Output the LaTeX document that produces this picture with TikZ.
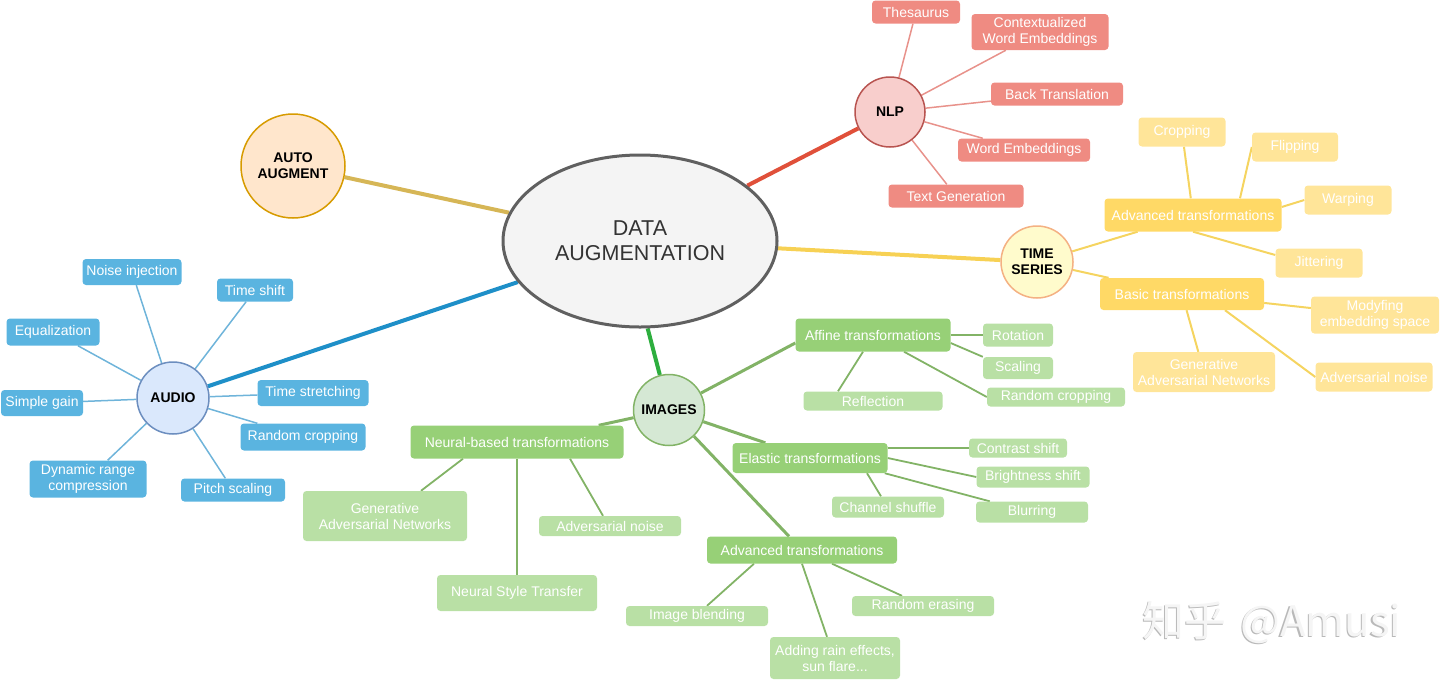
\documentclass[tikz,border=0pt]{standalone}
\usepackage{fontspec}
\setmainfont{Liberation Sans}
\newfontfamily\cjkfont{Noto Sans CJK SC}
\usetikzlibrary{shapes.geometric,backgrounds}
\definecolor{dafill}{HTML}{F4F4F4}
\definecolor{dadraw}{HTML}{606060}
\definecolor{datext}{HTML}{333333}
\definecolor{autofill}{HTML}{FFE6CC}
\definecolor{autodraw}{HTML}{D79B00}
\definecolor{autoc}{HTML}{D6B656}
\definecolor{nlpfill}{HTML}{F8CECC}
\definecolor{nlpdraw}{HTML}{B85450}
\definecolor{nlpc}{HTML}{E0503A}
\definecolor{nlpbox}{HTML}{EF8B82}
\definecolor{nlpthin}{HTML}{E8928B}
\definecolor{tsfill}{HTML}{FFFBCC}
\definecolor{tsdraw}{HTML}{F4B183}
\definecolor{tsc}{HTML}{F7D154}
\definecolor{tsone}{HTML}{FFD966}
\definecolor{tstwo}{HTML}{FFE599}
\definecolor{tsthin}{HTML}{F5D460}
\definecolor{aufill}{HTML}{DAE8FC}
\definecolor{audraw}{HTML}{6C8EBF}
\definecolor{auc}{HTML}{1E8FC8}
\definecolor{aubox}{HTML}{5AB4E0}
\definecolor{authin}{HTML}{6FB4DA}
\definecolor{imfill}{HTML}{D5E8D4}
\definecolor{imdraw}{HTML}{82B366}
\definecolor{imc}{HTML}{2DAE3E}
\definecolor{imone}{HTML}{97D077}
\definecolor{imtwo}{HTML}{B9E0A5}
\definecolor{imline}{HTML}{82B366}
\newcommand\lblfont{\fontsize{14}{16}\selectfont}
\begin{document}
\begin{tikzpicture}[x=1pt,y=-1pt,
  sz/.style 2 args={minimum width=#1pt, minimum height=#2pt},
  box/.style={rectangle, rounded corners=3.5pt, inner sep=0pt, align=center, text=white, font=\lblfont},
  nlpb/.style={box, fill=nlpbox},
  tsa/.style={box, fill=tsone},
  tsb/.style={box, fill=tstwo},
  aub/.style={box, fill=aubox},
  ima/.style={box, fill=imone},
  imb/.style={box, fill=imtwo},
  circ/.style={circle, inner sep=0pt, align=center, line width=1.5pt, font=\bfseries\lblfont, text=black},
  mainc/.style={line width=4pt},
  nlpl/.style={draw=nlpthin, line width=1.5pt},
  aul/.style={draw=authin, line width=1.5pt},
  tsl/.style={draw=tsthin, line width=2pt},
  iml/.style={draw=imline, line width=3pt},
  imll/.style={draw=imline, line width=1.8pt},
]
\useasboundingbox (0,0) rectangle (1440,681);

% central
\node[ellipse, draw=dadraw, fill=dafill, line width=3pt, minimum width=274pt, minimum height=172pt, inner sep=0pt, align=center, text=datext, font=\fontsize{21.5}{25}\selectfont] (da) at (640,241) {DATA\\AUGMENTATION};

% categories
\node[circ, fill=autofill, draw=autodraw, minimum size=104pt] (auto) at (293,166) {AUTO\\AUGMENT};
\node[circ, fill=nlpfill, draw=nlpdraw, minimum size=70pt] (nlp) at (890,112) {NLP};
\node[circ, fill=tsfill, draw=tsdraw, minimum size=72pt] (ts) at (1037,262) {TIME\\SERIES};
\node[circ, fill=aufill, draw=audraw, minimum size=72pt] (audio) at (173,398) {AUDIO};
\node[circ, fill=imfill, draw=imdraw, minimum size=71pt] (images) at (669,410) {IMAGES};

% NLP
\node[nlpb, sz={88}{23}] (thes) at (916,12) {Thesaurus};
\node[nlpb, sz={137}{36}] (ctx) at (1040,32) {Contextualized\\Word Embeddings};
\node[nlpb, sz={132}{23}] (bt) at (1057,94) {Back Translation};
\node[nlpb, sz={132}{23}] (we) at (1024,150) {Word Embeddings};
\node[nlpb, sz={135}{23}] (tg) at (956,196) {Text Generation};

% TIME SERIES
\node[tsa, sz={177}{33}] (tsadv) at (1193,215) {Advanced transformations};
\node[tsa, sz={164}{32}] (tsbasic) at (1182,294) {Basic transformations};
\node[tsb, sz={87}{29}] (crop) at (1182,132) {Cropping};
\node[tsb, sz={86}{29}] (flip) at (1295,147) {Flipping};
\node[tsb, sz={87}{29}] (warp) at (1348,200) {Warping};
\node[tsb, sz={87}{29}] (jit) at (1319,263) {Jittering};
\node[tsb, sz={128}{37}] (mod) at (1375,315) {Modyfing\\embedding space};
\node[tsb, sz={142}{40}] (tsgan) at (1204,372) {Generative\\Adversarial Networks};
\node[tsb, sz={117}{29}] (tsnoise) at (1374,377) {Adversarial noise};

% AUDIO
\node[aub, sz={99}{26}] (noise) at (132,272) {Noise injection};
\node[aub, sz={76}{23}] (tshift) at (255,290) {Time shift};
\node[aub, sz={93}{27}] (eq) at (53,332) {Equalization};
\node[aub, sz={82}{26}] (gain) at (42,403) {Simple gain};
\node[aub, sz={117}{37}] (drc) at (88,479) {Dynamic range\\compression};
\node[aub, sz={104}{23}] (pitch) at (233,490) {Pitch scaling};
\node[aub, sz={111}{26}] (tstretch) at (313,393) {Time stretching};
\node[aub, sz={125}{27}] (aucrop) at (303,437) {Random cropping};

% IMAGES
\node[ima, sz={155}{33}] (affine) at (873,335) {Affine transformations};
\node[imb, sz={70}{23}] (rot) at (1018,335) {Rotation};
\node[imb, sz={70}{22}] (scal) at (1018,368) {Scaling};
\node[imb, sz={138}{19}] (imcrop) at (1056,397) {Random cropping};
\node[imb, sz={139}{19}] (refl) at (873,401) {Reflection};
\node[ima, sz={155}{30}] (elastic) at (810,458) {Elastic transformations};
\node[imb, sz={98}{19}] (contrast) at (1018,448) {Contrast shift};
\node[imb, sz={113}{21}] (bright) at (1033,477) {Brightness shift};
\node[imb, sz={112}{21}] (chan) at (888,507) {Channel shuffle};
\node[imb, sz={112}{21}] (blur) at (1032,512) {Blurring};
\node[ima, sz={213}{33}] (neural) at (517,442) {Neural-based transformations};
\node[imb, sz={164}{50}] (imgan) at (385,516) {Generative\\Adversarial Networks};
\node[imb, sz={142}{20}] (imnoise) at (610,526) {Adversarial noise};
\node[imb, sz={160}{36}] (nst) at (517,593) {Neural Style Transfer};
\node[ima, sz={190}{27}] (imadv) at (802,550) {Advanced transformations};
\node[imb, sz={142}{20}] (blend) at (697,616) {Image blending};
\node[imb, sz={142}{20}] (erase) at (923,606) {Random erasing};
\node[imb, sz={130}{42}] (rain) at (835,658) {Adding rain effects,\\sun flare...};

% watermark
\node[text=gray!55, font=\cjkfont\fontsize{42}{44}\selectfont, inner sep=0pt] (wmshadow) at (1270.5,623.5) {知乎\hspace{14pt}@Amusi};
\node[text=gray!8, font=\cjkfont\fontsize{42}{44}\selectfont, inner sep=0pt] (wm) at (1272,622) {知乎\hspace{14pt}@Amusi};

\begin{pgfonlayer}{background}
\draw[mainc, draw=autoc] (auto) -- (da);
\draw[mainc, draw=nlpc] (da) -- (nlp);
\draw[mainc, draw=tsc] (da) -- (ts);
\draw[mainc, draw=auc] (da) -- (audio);
\draw[mainc, draw=imc] (images) -- (da.275);

\foreach \t in {thes,ctx,bt,we,tg} \draw[nlpl] (nlp) -- (\t);
\foreach \t in {noise,tshift,eq,gain,drc,pitch,tstretch,aucrop} \draw[aul] (audio) -- (\t);

\draw[tsl] (ts) -- (tsadv);
\draw[tsl] (ts) -- (tsbasic);
\draw[tsl] (crop) -- (tsadv);
\draw[tsl] ([xshift=47pt]tsadv.north) -- (flip.west);
\draw[tsl] ([yshift=8pt]tsadv.east) -- (warp.west);
\draw[tsl] (tsadv.south) -- ([yshift=8pt]jit.west);
\draw[tsl] (tsbasic) -- (mod);
\draw[tsl] (tsbasic) -- (tsgan);
\draw[tsl] ([xshift=43pt]tsbasic.south) -- (tsnoise.west);

\draw[iml] (images) -- ([yshift=-8pt]affine.west);
\draw[iml] (images) -- (elastic);
\draw[iml] (images) -- ([xshift=-25pt]neural.north east);
\draw[iml] (images) -- (imadv);
\draw[imll] (affine) -- (rot);
\draw[imll] ([yshift=-8pt]affine.east) -- (scal.north west);
\draw[imll] ([xshift=31pt]affine.south) -- (imcrop.west);
\draw[imll] ([xshift=-10pt]affine.south) -- ([xshift=-35pt]refl.north);
\draw[imll] (contrast.west) -- (contrast.west -| elastic.east);
\draw[imll] (elastic.east) -- (bright.west);
\draw[imll] ([xshift=-3pt]elastic.south east) -- ([xshift=14pt]blur.north west);
\draw[imll] ([xshift=57pt]elastic.south) -- ([xshift=-7pt]chan.north);
\draw[imll] ([xshift=-54pt]neural.south) -- ([xshift=36pt]imgan.north);
\draw[imll] (neural.south) -- (nst.north);
\draw[imll] ([xshift=53pt]neural.south) -- ([xshift=-7pt]imnoise.north);
\draw[imll] ([xshift=-48pt]imadv.south) -- ([xshift=10pt]blend.north);
\draw[imll] (imadv.south) -- ([xshift=-8pt]rain.north);
\draw[imll] ([xshift=30pt]imadv.south) -- ([xshift=-21pt]erase.north);
\end{pgfonlayer}
\end{tikzpicture}
\end{document}
